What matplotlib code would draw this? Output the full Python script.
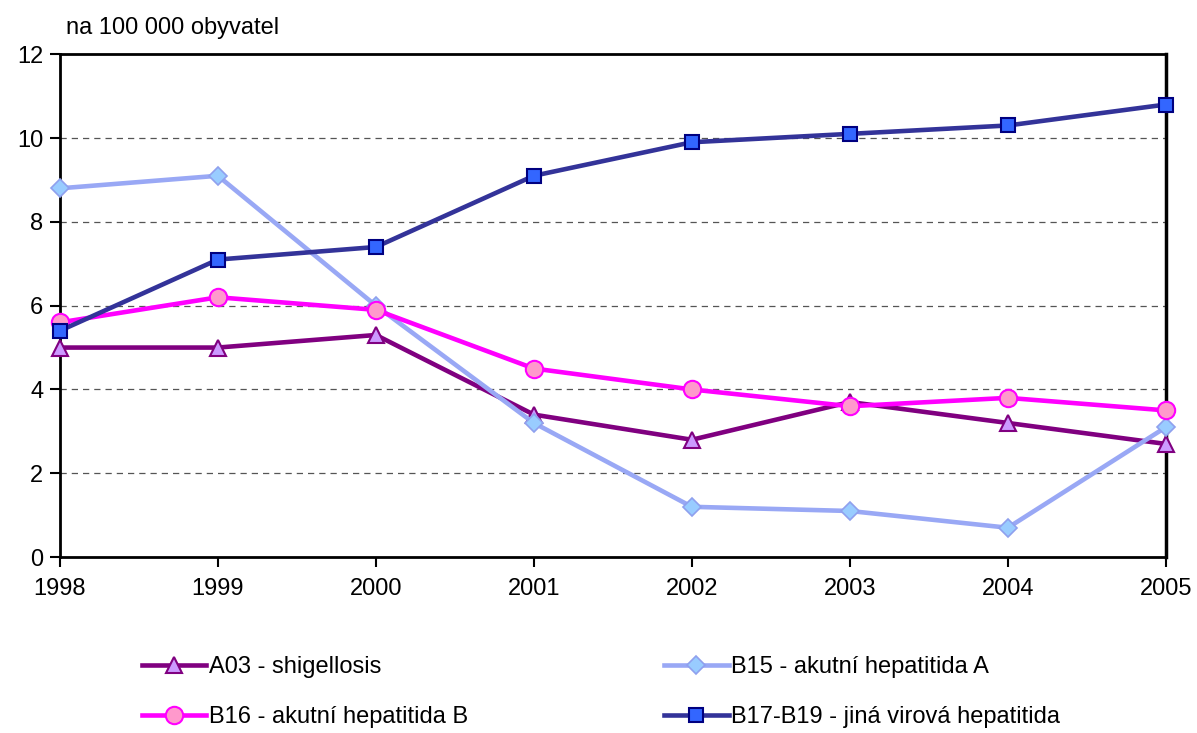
import matplotlib.pyplot as plt
import numpy as np

plt.rcParams['font.family'] = ['Liberation Sans', 'DejaVu Sans']

years = [1998, 1999, 2000, 2001, 2002, 2003, 2004, 2005]
a03 = [5.0, 5.0, 5.3, 3.4, 2.8, 3.7, 3.2, 2.7]
b15 = [8.8, 9.1, 6.0, 3.2, 1.2, 1.1, 0.7, 3.1]
b16 = [5.6, 6.2, 5.9, 4.5, 4.0, 3.6, 3.8, 3.5]
b17 = [5.4, 7.1, 7.4, 9.1, 9.9, 10.1, 10.3, 10.8]
labels = ["A03 - shigellosis", "B15 - akutní hepatitida A",
          "B16 - akutní hepatitida B", "B17-B19 - jiná virová hepatitida"]

fig = plt.figure(figsize=(11.97, 7.33), dpi=100)
ax = fig.add_axes([0.050, 0.240, 0.924, 0.686])

x = np.arange(len(years))
l1, = ax.plot(x, a03, color='#800080', lw=3.3, marker='^', ms=12,
              mfc='#CC99FF', mec='#800080', mew=1.5, zorder=3, clip_on=False)
l2, = ax.plot(x, b15, color='#99A8F5', lw=3.3, marker='D', ms=9,
              mfc='#99CCFF', mec='#8FA0EE', mew=1.2, zorder=3, clip_on=False)
l3, = ax.plot(x, b16, color='#FF00FF', lw=3.3, marker='o', ms=12.5,
              mfc='#FF99CC', mec='#FF00FF', mew=1.5, zorder=3, clip_on=False)
l4, = ax.plot(x, b17, color='#333399', lw=3.3, marker='s', ms=10.5,
              mfc='#3366FF', mec='#000080', mew=1.5, zorder=4, clip_on=False)

ax.set_xlim(0, len(years) - 1)
ax.set_ylim(0, 12)
ax.set_xticks(x)
ax.set_xticklabels([str(y) for y in years])
ax.set_yticks(range(0, 13, 2))
for v in range(2, 12, 2):
    ax.axhline(v, color='#555555', lw=0.9, ls=(0, (5, 4)), zorder=1)
for s in ax.spines.values():
    s.set_color('black')
    s.set_linewidth(2)
ax.spines['right'].set_linewidth(2.5)
ax.tick_params(labelsize=17, length=7, width=1.5, direction='out', pad=5)
ax.tick_params(axis='x', pad=8)

fig.text(0.055, 0.962, "na 100 000 obyvatel", fontsize=17, va='center', ha='left')

fig.legend([l1, l3, l2, l4], [labels[0], labels[2], labels[1], labels[3]],
           ncol=2, loc='upper left', bbox_to_anchor=(0.1005, 0.134),
           frameon=False, fontsize=17, handlelength=2.75, columnspacing=8.3,
           labelspacing=1.2, handletextpad=0.1)

fig.savefig('out.png', dpi=100)
